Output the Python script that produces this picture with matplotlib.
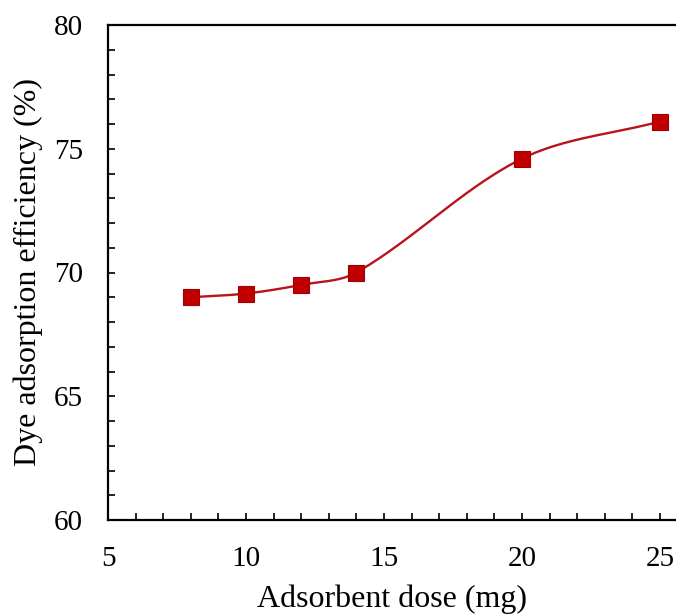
import numpy as np
import matplotlib
matplotlib.use("Agg")
import matplotlib.pyplot as plt
from matplotlib.ticker import MultipleLocator

# Data
dose = [8, 10, 12, 14, 20, 25]
efficiency = [69.0, 69.15, 69.5, 70.0, 74.6, 76.1]

plt.rcParams['font.family'] = ['Liberation Serif', 'DejaVu Serif']

fig = plt.figure(figsize=(6.76, 6.14), dpi=100)
ax = fig.add_axes([108/676, 94/614, 1 - 108/676, (520-25)/614])
ax.set_xlim(5, 25.58)
ax.set_ylim(60, 80)

def smooth_curve(xs, ys, n=80):
    # chord-length scaled cubic Bezier smoothing in display space
    P = ax.transData.transform(np.column_stack([xs, ys]).astype(float))
    m = len(P)
    tang = []
    for i in range(m):
        p0 = P[i - 1] if i > 0 else P[i]
        p2 = P[i + 1] if i < m - 1 else P[i]
        d = np.linalg.norm(P[i] - p0) + np.linalg.norm(p2 - P[i])
        tang.append((p2 - p0) / d)
    out = []
    for i in range(m - 1):
        p1, p2 = P[i], P[i + 1]
        L = np.linalg.norm(p2 - p1)
        c1 = p1 + tang[i] * L / 3.0
        c2 = p2 - tang[i + 1] * L / 3.0
        t = np.linspace(0, 1, n)[:, None]
        seg = ((1 - t) ** 3) * p1 + 3 * ((1 - t) ** 2) * t * c1 + 3 * (1 - t) * t ** 2 * c2 + t ** 3 * p2
        out.append(seg if i == 0 else seg[1:])
    s = ax.transData.inverted().transform(np.vstack(out))
    return s[:, 0], s[:, 1]

sx, sy = smooth_curve(dose, efficiency)
ax.plot(sx, sy, color='#B8141C', lw=1.7, zorder=2)
ax.plot(dose, efficiency, ls='none', marker='s', ms=11, color='#C00000',
        mec='#A00000', mew=0.8, zorder=3)

ax.xaxis.set_major_locator(MultipleLocator(5))
ax.xaxis.set_minor_locator(MultipleLocator(1))
ax.yaxis.set_major_locator(MultipleLocator(5))
ax.yaxis.set_minor_locator(MultipleLocator(1))

ax.spines['right'].set_visible(False)
for s in ['left', 'bottom', 'top']:
    ax.spines[s].set_linewidth(1.6)

ax.tick_params(which='both', direction='in', length=5, width=1.2,
               top=False, right=False, labelsize=21)
ax.tick_params(axis='x', which='major', pad=18.5)
ax.tick_params(axis='y', which='major', pad=18)

ax.set_xlabel('Adsorbent dose (mg)', fontsize=23, labelpad=9)
ax.set_ylabel('Dye adsorption efficiency (%)', fontsize=23, labelpad=8)

fig.savefig('out.png', dpi=100)
